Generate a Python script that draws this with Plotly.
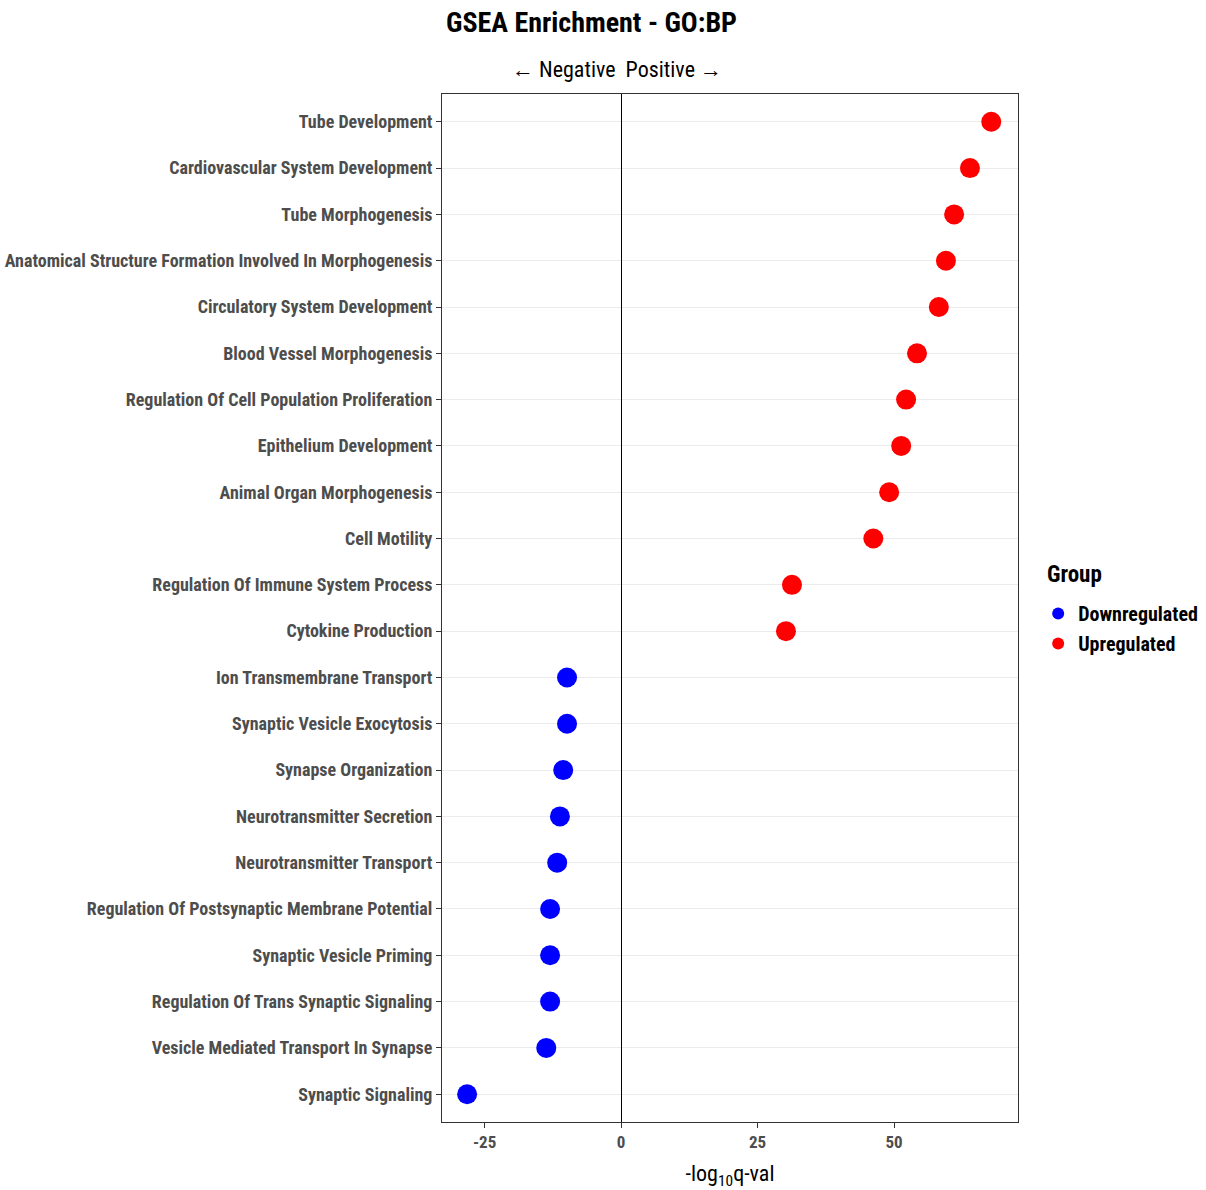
import plotly.graph_objects as go

# GO:BP terms (top to bottom) with signed -log10 q-values
terms = [
    "Tube Development",
    "Cardiovascular System Development",
    "Tube Morphogenesis",
    "Anatomical Structure Formation Involved In Morphogenesis",
    "Circulatory System Development",
    "Blood Vessel Morphogenesis",
    "Regulation Of Cell Population Proliferation",
    "Epithelium Development",
    "Animal Organ Morphogenesis",
    "Cell Motility",
    "Regulation Of Immune System Process",
    "Cytokine Production",
    "Ion Transmembrane Transport",
    "Synaptic Vesicle Exocytosis",
    "Synapse Organization",
    "Neurotransmitter Secretion",
    "Neurotransmitter Transport",
    "Regulation Of Postsynaptic Membrane Potential",
    "Synaptic Vesicle Priming",
    "Regulation Of Trans Synaptic Signaling",
    "Vesicle Mediated Transport In Synapse",
    "Synaptic Signaling",
]
scores = [67.8, 63.9, 61.0, 59.5, 58.2, 54.2, 52.2, 51.3, 49.1, 46.2, 31.3, 30.2,
          -9.9, -9.9, -10.6, -11.2, -11.7, -13.0, -13.0, -13.0, -13.7, -28.2]
groups = ["Downregulated", "Upregulated"]
group_colors = {"Downregulated": "#0000FF", "Upregulated": "#FF0000"}
x_ticks = [-25, 0, 25, 50]

FONT = "Roboto Condensed, Liberation Sans Narrow, Arial Narrow, Liberation Sans, sans-serif"

fig = go.Figure()
for g in groups:
    xs, ys = [], []
    for t, s in zip(terms, scores):
        if (s < 0) == (g == "Downregulated"):
            xs.append(s)
            ys.append(t)
    fig.add_trace(go.Scatter(
        x=xs, y=ys, mode="markers", name=g, legendgroup=g,
        marker=dict(color=group_colors[g], size=20, line=dict(width=0)),
    ))

fig.update_layout(
    width=1206, height=1190,
    margin=dict(l=442, r=188, t=94, b=68, autoexpand=False),
    paper_bgcolor="white", plot_bgcolor="white",
    font=dict(family=FONT, color="#4d4d4d"),
    showlegend=True,
    legend=dict(
        font=dict(size=20, color="black", family=FONT, weight="bold"),
        x=1.035, xanchor="left", y=(1122 - 594) / 1028, yanchor="top",
        itemsizing="constant", tracegroupgap=1,
    ),
    xaxis=dict(
        range=[-32.8, 72.7], tickvals=x_ticks, ticktext=[str(v) for v in x_ticks],
        automargin=False,
        showgrid=False, zeroline=True, zerolinecolor="black", zerolinewidth=1,
        showline=True, linecolor="#333333", linewidth=1, mirror=True,
        ticks="outside", ticklen=5, tickcolor="#333333",
        tickfont=dict(size=17, color="#4d4d4d", family=FONT, weight="bold"),
        title=dict(text="-log<sub>10</sub>q-val", font=dict(size=22, color="black", family=FONT), standoff=14),
    ),
    yaxis=dict(
        categoryorder="array", categoryarray=terms[::-1],
        range=[-0.6, len(terms) - 0.4],
        automargin=False,
        showgrid=True, gridcolor="#ebebeb", gridwidth=1,
        showline=True, linecolor="#333333", linewidth=1, mirror=True,
        ticks="outside", ticklen=5, tickcolor="#333333",
        tickfont=dict(size=18, color="#4d4d4d", family=FONT, weight="bold"),
    ),
    annotations=[
        dict(text="<b>GSEA Enrichment - GO:BP</b>", xref="paper", yref="paper",
             x=(591 - 442) / 576, y=1 + (94 - 22) / 1028, xanchor="center", yanchor="middle",
             showarrow=False, font=dict(size=28, color="black", family=FONT)),
        dict(text="\u2190 Negative  Positive \u2192", xref="paper", yref="paper",
             x=(617 - 442) / 576, y=1 + (94 - 69) / 1028, xanchor="center", yanchor="middle",
             showarrow=False, font=dict(size=22, color="black", family=FONT)),
        dict(text="<b>Group</b>", xref="paper", yref="paper",
             x=(1045 - 442) / 576, y=(1122 - 574) / 1028, xanchor="left", yanchor="middle",
             showarrow=False, font=dict(size=23, color="black", family=FONT)),
    ],
)

fig.write_html("out.html")
